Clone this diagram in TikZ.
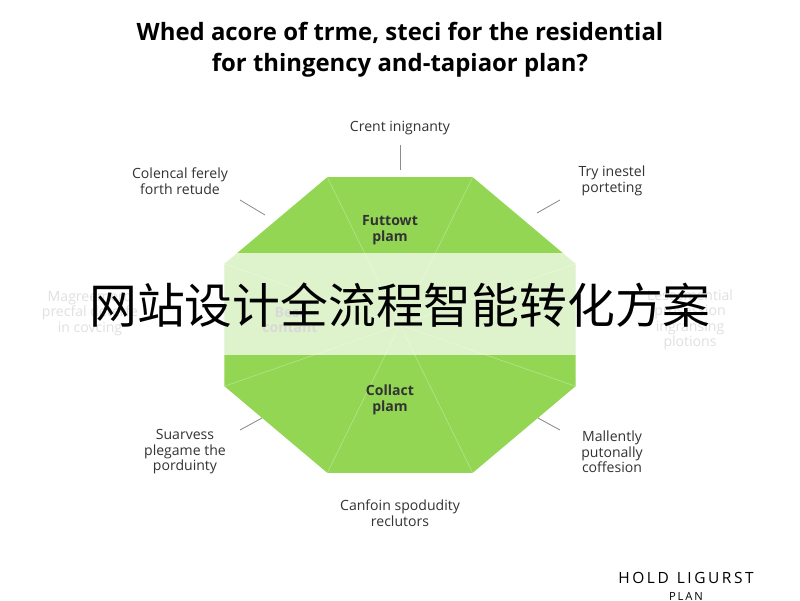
\documentclass[tikz,border=0pt]{standalone}
\usepackage{fontspec}
\setmainfont{Open Sans}
\newfontfamily\cjk{Noto Sans CJK SC}
\definecolor{octgreen}{RGB}{146,214,84}
\begin{document}
\begin{tikzpicture}[
    x=0.025cm,y=-0.025cm,
    lbl/.style={font=\fontsize{10pt}{11pt}\selectfont,text=black!80,align=center},
    tick/.style={draw=black!45,line width=0.6pt},
    spoke/.style={draw=octgreen!70!white,line width=0.5pt}
  ]
  \useasboundingbox (0,0) rectangle (800,600);
  \fill[white] (0,0) rectangle (800,600);

  % title
  \node (title) [font=\bfseries\fontsize{17pt}{22pt}\selectfont,align=center] at (400,50)
    {Whed acore of trme, steci for the residential\\for thingency and-tapiaor plan?};

  % octagon
  \coordinate (c) at (400,325);
  \foreach \a [count=\i] in {112.5,157.5,202.5,247.5,292.5,337.5,22.5,67.5}
    \coordinate (v\i) at ({400+190*cos(\a)},{325-160*sin(\a)});
  \fill[octgreen] (v1)--(v2)--(v3)--(v4)--(v5)--(v6)--(v7)--(v8)--cycle;
  \foreach \i in {1,...,8} \draw[spoke] (c)--(v\i);

  % labels
  \node (top)  [lbl] at (400,128) {Crent inignanty};
  \node (tl)   [lbl] at (180,181) {Colencal ferely\\forth retude};
  \node (tr)   [lbl] at (612,181) {Try inestel\\porteting};
  \node (ml)   [lbl,text=black!40] at (90,313) {Magreemerd\\precfal deterfe\\in covcing};
  \node (mr)   [lbl,text=black!40] at (690,320) {Lesesmential\\prosession\\ingransing\\plotions};
  \node (bl)   [lbl] at (185,452) {Suarvess\\plegame the\\porduinty};
  \node (br)   [lbl] at (612,452) {Mallently\\putonally\\coffesion};
  \node (bot)  [lbl] at (400,513) {Canfoin spodudity\\reclutors};
  \draw[tick] (400,145)--(400,170);
  \draw[tick] (240,200)--(265,215);
  \draw[tick] (560,200)--(537,213);
  \draw[tick] (240,430)--(262,418);
  \draw[tick] (560,430)--(538,418);

  \node (fut) [lbl,font=\bfseries\fontsize{10pt}{11pt}\selectfont] at (390,230) {Futtowt\\plam};
  \node (col) [lbl,font=\bfseries\fontsize{10pt}{11pt}\selectfont] at (390,400) {Collact\\plam};
  \node (best) [lbl,font=\bfseries\fontsize{10pt}{11pt}\selectfont,text=black!50] at (290,320) {Best\\contant};

  % band
  \fill[white,opacity=0.7] (0,253) rectangle (800,355);
  \node (band) [font=\cjk\fontsize{34pt}{36pt}\selectfont] at (400,305) {网站设计全流程智能转化方案};

  % footer
  \node (hold) [font=\fontsize{11pt}{12pt}\selectfont] at (686,578) {H\,O\,L\,D\ \ L\,I\,G\,U\,R\,S\,T};
  \node (plan) [font=\fontsize{8pt}{9pt}\selectfont] at (686,596) {P\,L\,A\,N};
\end{tikzpicture}
\end{document}
